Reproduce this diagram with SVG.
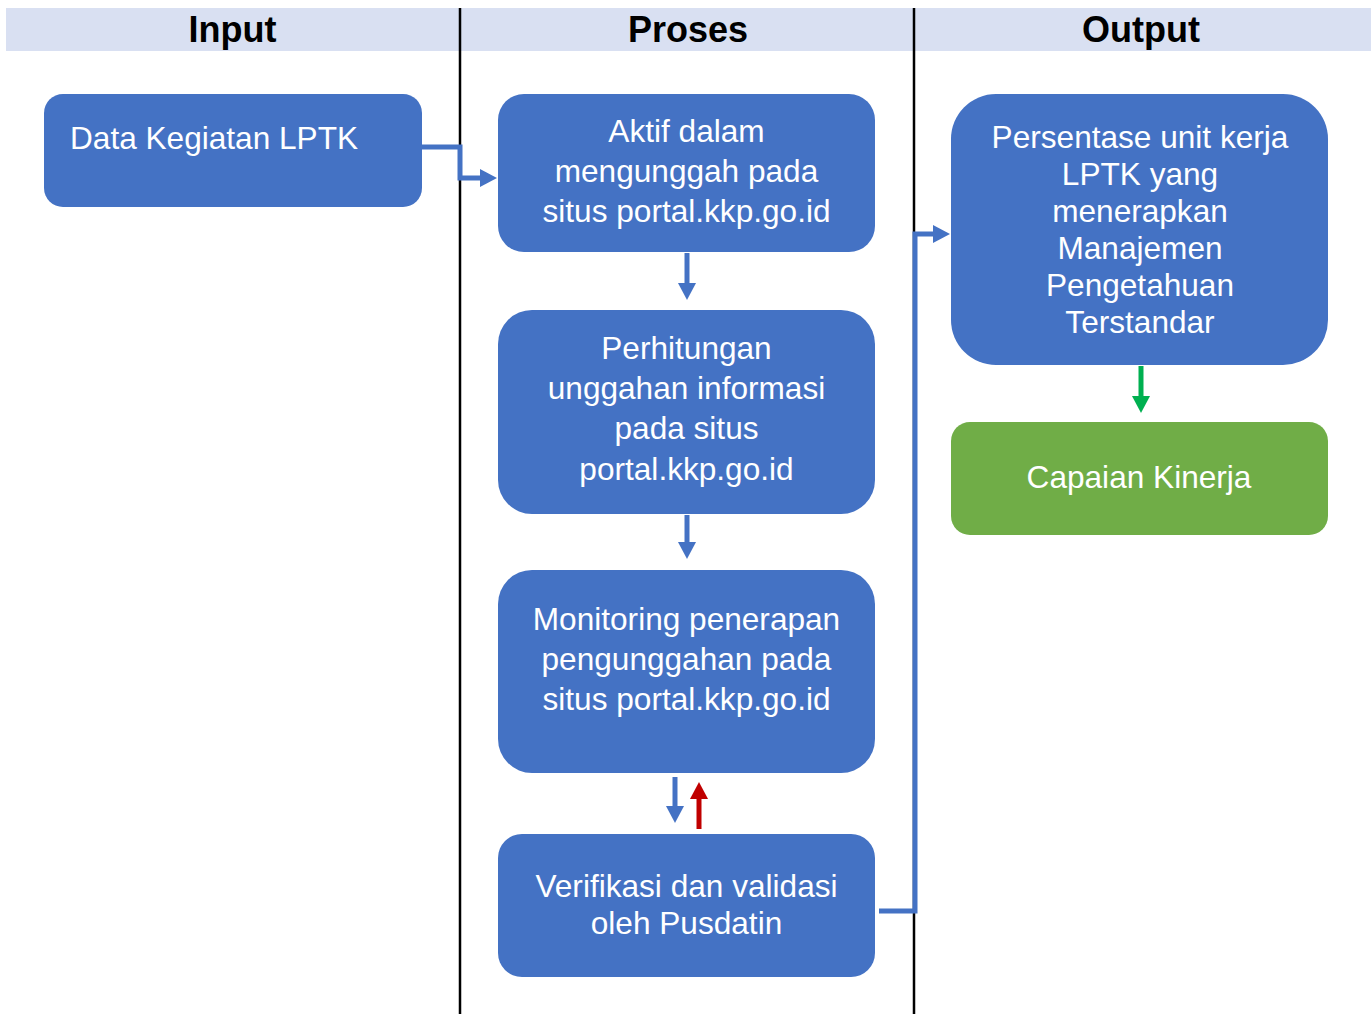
<svg xmlns="http://www.w3.org/2000/svg" width="1371" height="1014" viewBox="0 0 1371 1014">
  <style>
    .hdr { font-family: "Liberation Sans", Arial, sans-serif; font-size: 36px; font-weight: bold; fill: #000; text-anchor: middle; }
    .box { fill: #4472C4; }
    .box-green { fill: #70AD47; }
    .lbl { font-family: "Liberation Sans", Arial, sans-serif; font-size: 31.6px; fill: #FFFFFF; text-anchor: middle; }
    .lane { stroke: #000; stroke-width: 2.5; }
    .conn { fill: none; stroke: #4472C4; stroke-width: 5; }
    .conn-red { fill: none; stroke: #C00000; stroke-width: 5; }
    .conn-green { fill: none; stroke: #00B050; stroke-width: 5; }
  </style>
  <defs>
    <marker id="head-blue" markerUnits="userSpaceOnUse" markerWidth="18" markerHeight="18" refX="2" refY="9" orient="auto">
      <path d="M0,0 L17,9 L0,18 z" fill="#4472C4"/>
    </marker>
    <marker id="head-red" markerUnits="userSpaceOnUse" markerWidth="18" markerHeight="18" refX="2" refY="9" orient="auto">
      <path d="M0,0 L17,9 L0,18 z" fill="#C00000"/>
    </marker>
    <marker id="head-green" markerUnits="userSpaceOnUse" markerWidth="18" markerHeight="18" refX="2" refY="9" orient="auto">
      <path d="M0,0 L17,9 L0,18 z" fill="#00B050"/>
    </marker>
  </defs>

  <rect width="1371" height="1014" fill="#FFFFFF"/>

  <!-- swimlane header band -->
  <g id="header">
    <rect x="6" y="8" width="1365" height="43" fill="#D9E0F2"/>
    <text class="hdr" x="232.5" y="42">Input</text>
    <text class="hdr" x="688" y="42">Proses</text>
    <text class="hdr" x="1141" y="42">Output</text>
  </g>

  <!-- lane separators -->
  <g id="lanes">
    <line class="lane" x1="460" y1="8" x2="460" y2="1014"/>
    <line class="lane" x1="914" y1="8" x2="914" y2="1014"/>
  </g>

  <!-- connectors -->
  <g id="connectors">
    <path class="conn" d="M422,147 H460 V178 H482" marker-end="url(#head-blue)"/>
    <path class="conn" d="M687,253 V285" marker-end="url(#head-blue)"/>
    <path class="conn" d="M687,515 V544" marker-end="url(#head-blue)"/>
    <path class="conn" d="M675,777 V808" marker-end="url(#head-blue)"/>
    <path class="conn-red" d="M699,829 V797" marker-end="url(#head-red)"/>
    <path class="conn" d="M879,911 H915 V234 H935" marker-end="url(#head-blue)"/>
    <path class="conn-green" d="M1141,366 V398" marker-end="url(#head-green)"/>
  </g>

  <!-- input lane -->
  <g id="data-kegiatan">
    <rect class="box" x="44" y="94" width="378" height="113" rx="19"/>
    <text class="lbl" x="70" y="149" style="text-anchor:start">Data Kegiatan LPTK</text>
  </g>

  <!-- process lane -->
  <g id="aktif-mengunggah">
    <rect class="box" x="498" y="94" width="377" height="158" rx="26"/>
    <text class="lbl" x="686.5" y="142">Aktif dalam</text>
    <text class="lbl" x="686.5" y="182">mengunggah pada</text>
    <text class="lbl" x="686.5" y="222">situs portal.kkp.go.id</text>
  </g>

  <g id="perhitungan">
    <rect class="box" x="498" y="310" width="377" height="204" rx="34"/>
    <text class="lbl" x="686.5" y="359">Perhitungan</text>
    <text class="lbl" x="686.5" y="399">unggahan informasi</text>
    <text class="lbl" x="686.5" y="439">pada situs</text>
    <text class="lbl" x="686.5" y="480">portal.kkp.go.id</text>
  </g>

  <g id="monitoring">
    <rect class="box" x="498" y="570" width="377" height="203" rx="34"/>
    <text class="lbl" x="686.5" y="630">Monitoring penerapan</text>
    <text class="lbl" x="686.5" y="670">pengunggahan pada</text>
    <text class="lbl" x="686.5" y="710">situs portal.kkp.go.id</text>
  </g>

  <g id="verifikasi">
    <rect class="box" x="498" y="834" width="377" height="143" rx="24"/>
    <text class="lbl" x="686.5" y="897">Verifikasi dan validasi</text>
    <text class="lbl" x="686.5" y="934">oleh Pusdatin</text>
  </g>

  <!-- output lane -->
  <g id="persentase">
    <rect class="box" x="951" y="94" width="377" height="271" rx="45"/>
    <text class="lbl" x="1140" y="148">Persentase unit kerja</text>
    <text class="lbl" x="1140" y="185">LPTK yang</text>
    <text class="lbl" x="1140" y="222">menerapkan</text>
    <text class="lbl" x="1140" y="259">Manajemen</text>
    <text class="lbl" x="1140" y="296">Pengetahuan</text>
    <text class="lbl" x="1140" y="333">Terstandar</text>
  </g>

  <g id="capaian-kinerja">
    <rect class="box-green" x="951" y="422" width="377" height="113" rx="19"/>
    <text class="lbl" x="1139" y="488">Capaian Kinerja</text>
  </g>
</svg>
